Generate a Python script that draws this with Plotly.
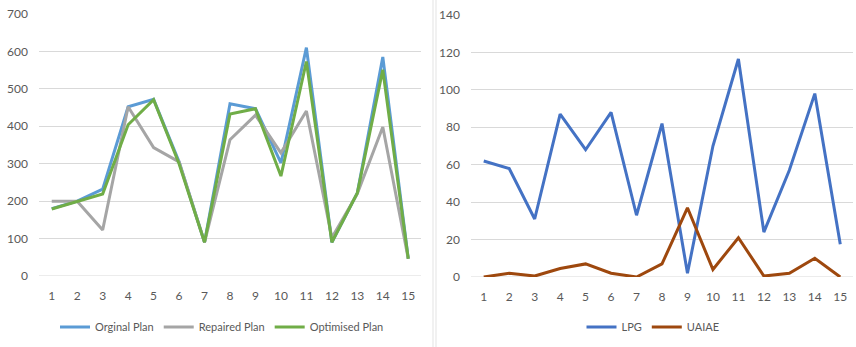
import plotly.graph_objects as go

# Plan-comparison data (left panel)
steps = list(range(1, 16))
original_plan = [180, 200, 232, 452, 472, 305, 90, 460, 447, 302, 610, 90, 222, 585, 46]
repaired_plan = [200, 200, 123, 452, 343, 305, 90, 364, 430, 329, 441, 102, 220, 398, 46]
optimised_plan = [179, 200, 219, 404, 471, 300, 90, 433, 447, 267, 573, 90, 222, 551, 46]

# Metric data (right panel)
lpg = [62, 58, 31, 87, 68, 88, 33, 82, 2, 70, 116.5, 24, 57, 98, 17.5]
uaiae = [0, 2, 0.5, 4.5, 7, 2, 0, 7, 37, 4, 21, 0.5, 2, 10, 0]

left_ticks = [0, 100, 200, 300, 400, 500, 600, 700]
right_ticks = [0, 20, 40, 60, 80, 100, 120, 140]

W, H = 856, 347
FONT = "Lato"
TXT = "#595959"
GRID = "#D9D9D9"

fig = go.Figure()

def line(x, y, name, color, xa, ya, legend):
    fig.add_trace(go.Scatter(
        x=x, y=y, name=name, mode="lines",
        line=dict(color=color, width=3),
        xaxis=xa, yaxis=ya, legend=legend,
    ))

line(steps, original_plan, "Orginal Plan", "#5B9BD5", "x", "y", "legend")
line(steps, repaired_plan, "Repaired Plan", "#A5A5A5", "x", "y", "legend")
line(steps, optimised_plan, "Optimised Plan", "#70AD47", "x", "y", "legend")
line(steps, lpg, "LPG", "#4472C4", "x2", "y2", "legend2")
line(steps, uaiae, "UAIAE", "#9E480E", "x2", "y2", "legend2")

def px_x(p):
    return p / W

def px_y(p):
    return 1 - p / H

xcommon = dict(range=[0.5, 15.5], tickmode="array", tickvals=steps,
               showgrid=False, zeroline=False, showline=False,
               tickfont=dict(family=FONT, size=12, color=TXT),
               ticklabelstandoff=11, fixedrange=True, automargin=False)
ycommon = dict(showgrid=True, gridcolor=GRID, gridwidth=1, zeroline=False,
               showline=False, tickfont=dict(family=FONT, size=12, color=TXT),
               ticklabelstandoff=10, fixedrange=True, automargin=False)

legend_font = dict(family=FONT, size=11, color=TXT)

fig.update_layout(
    width=W, height=H,
    margin=dict(l=0, r=0, t=0, b=0, autoexpand=False),
    paper_bgcolor="white", plot_bgcolor="white",
    xaxis=dict(domain=[px_x(39), px_x(421)], anchor="y", **xcommon),
    yaxis=dict(domain=[px_y(276), px_y(14)], anchor="x", range=[0, 700],
               tickvals=left_ticks, **ycommon),
    xaxis2=dict(domain=[px_x(471), px_x(853)], anchor="y2", **xcommon),
    yaxis2=dict(domain=[px_y(277), px_y(15)], anchor="x2", range=[0, 140],
                tickvals=right_ticks, **ycommon),
    legend=dict(orientation="h", x=px_x(222), y=px_y(327), xanchor="center",
                yanchor="middle", font=legend_font,
                itemwidth=30, bgcolor="rgba(0,0,0,0)"),
    legend2=dict(orientation="h", x=px_x(653), y=px_y(327), xanchor="center",
                 yanchor="middle", font=legend_font,
                 itemwidth=30, bgcolor="rgba(0,0,0,0)"),
    showlegend=True,
)

# Divider between the two panels
for xp in (433, 436):
    fig.add_shape(type="line", xref="paper", yref="paper",
                  x0=px_x(xp), x1=px_x(xp), y0=0, y1=1,
                  line=dict(color="#E3E3E3", width=1))

# Baseline at zero on each panel
fig.add_shape(type="line", xref="x domain", yref="y", x0=0, x1=1, y0=0, y1=0,
              line=dict(color=GRID, width=1), layer="below")
fig.add_shape(type="line", xref="x2 domain", yref="y2", x0=0, x1=1, y0=0, y1=0,
              line=dict(color=GRID, width=1), layer="below")

fig.write_html("out.html")
